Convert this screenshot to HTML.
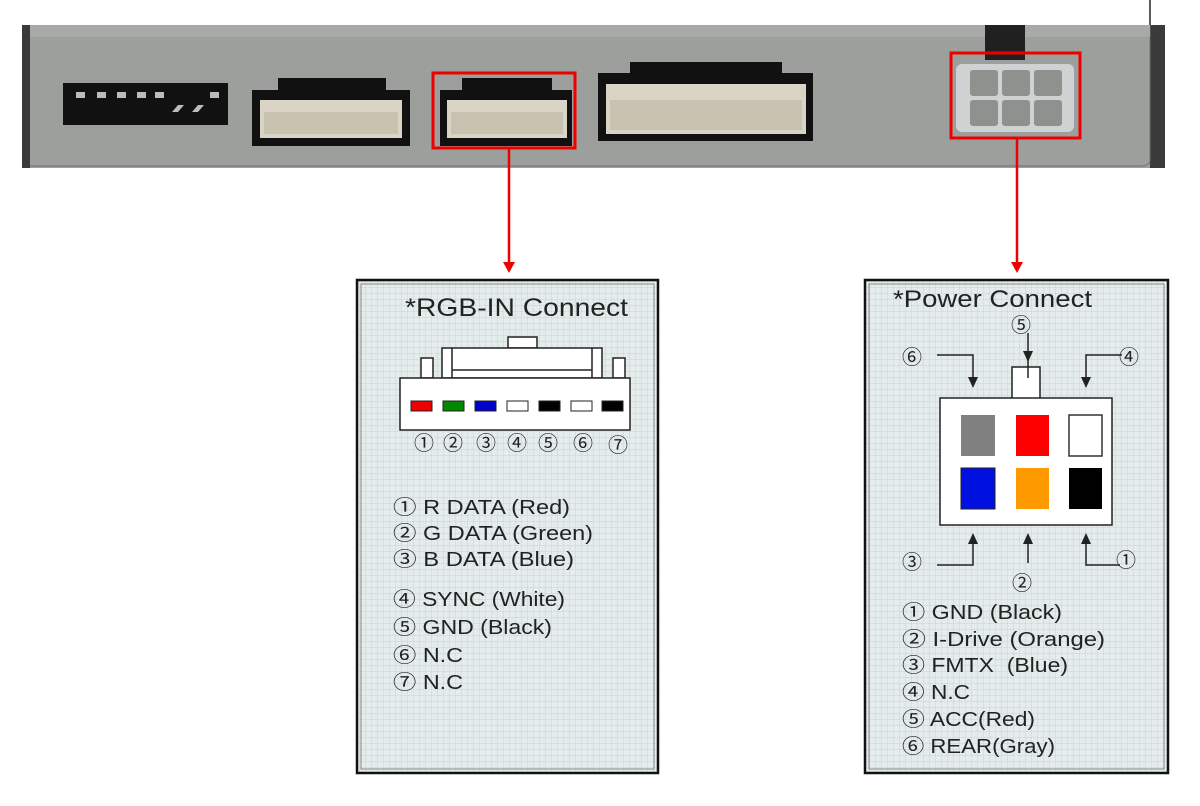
<!DOCTYPE html>
<html><head><meta charset="utf-8"><style>
html,body{margin:0;padding:0;background:#fff;width:1200px;height:806px;overflow:hidden}
svg text{font-family:"Liberation Sans","Noto Sans CJK KR",sans-serif;fill:#222}
</style></head><body>
<svg width="1200" height="806" viewBox="0 0 1200 806" xmlns="http://www.w3.org/2000/svg">
<defs>
<pattern id="g" width="6" height="6" patternUnits="userSpaceOnUse">
<rect width="6" height="6" fill="#e4ecec"/>
<path d="M6 0V6M0 6H6" stroke="#c9d3d4" stroke-width="1"/>
</pattern>
</defs>
<!-- device -->
<line x1="1150" y1="0" x2="1150" y2="26" stroke="#222" stroke-width="1.5"/>
<rect x="22" y="25" width="1143" height="143" fill="#9c9f9c"/>
<rect x="22" y="25" width="8" height="143" fill="#3a3a3a"/>
<rect x="1150" y="25" width="15" height="143" fill="#3a3a3a"/>
<path d="M1150 25 V160 Q1150 166 1140 166 H30" fill="none" stroke="#6f726f"/>
<rect x="30" y="25" width="1120" height="12" fill="#a7aaa7"/>
<rect x="985" y="25" width="40" height="35" fill="#202020"/>
<!-- dip -->
<rect x="63" y="83" width="165" height="42" fill="#111"/>
<g fill="#bbb"><rect x="76" y="92" width="9" height="6"/><rect x="97" y="92" width="9" height="6"/><rect x="117" y="92" width="9" height="6"/><rect x="137" y="92" width="9" height="6"/><rect x="155" y="92" width="9" height="6"/><rect x="210" y="92" width="9" height="6"/>
<path d="M172 112 L178 105 L184 105 L178 112Z"/><path d="M192 112 L198 105 L204 105 L198 112Z"/></g>
<!-- connector 1 -->
<rect x="252" y="90" width="158" height="56" fill="#111"/>
<rect x="278" y="78" width="108" height="22" fill="#111"/>
<rect x="260" y="100" width="142" height="38" fill="#d9d4c5"/>
<rect x="264" y="112" width="134" height="22" fill="#c8c2b0"/>
<!-- connector 2 -->
<rect x="440" y="90" width="132" height="56" fill="#111"/>
<rect x="462" y="78" width="90" height="22" fill="#111"/>
<rect x="447" y="100" width="120" height="38" fill="#d9d4c5"/>
<rect x="451" y="112" width="112" height="22" fill="#c8c2b0"/>
<rect x="433" y="73" width="142" height="75" fill="none" stroke="#e00" stroke-width="3"/>
<!-- big connector -->
<rect x="598" y="73" width="215" height="68" fill="#111"/>
<rect x="630" y="62" width="152" height="22" fill="#111"/>
<rect x="606" y="84" width="200" height="50" fill="#d9d4c5"/>
<rect x="610" y="100" width="192" height="30" fill="#c8c2b0"/>
<!-- power connector -->
<rect x="956" y="64" width="118" height="68" rx="6" fill="#cfd2d2"/>
<g fill="#8e918e"><rect x="970" y="70" width="28" height="26" rx="3"/><rect x="1002" y="70" width="28" height="26" rx="3"/><rect x="1034" y="70" width="28" height="26" rx="3"/><rect x="970" y="100" width="28" height="26" rx="3"/><rect x="1002" y="100" width="28" height="26" rx="3"/><rect x="1034" y="100" width="28" height="26" rx="3"/></g>
<rect x="951" y="53" width="129" height="85" fill="none" stroke="#e00" stroke-width="3"/>
<!-- red arrows -->
<line x1="509" y1="148" x2="509" y2="264" stroke="#e00" stroke-width="2.5"/>
<path d="M503 262 L515 262 L509 273Z" fill="#e00"/>
<line x1="1017" y1="138" x2="1017" y2="264" stroke="#e00" stroke-width="2.5"/>
<path d="M1011 262 L1023 262 L1017 273Z" fill="#e00"/>
<!-- panel 1 -->
<rect x="357" y="280" width="301" height="493" fill="url(#g)" stroke="#111" stroke-width="2.5"/>
<rect x="361" y="284" width="293" height="485" fill="none" stroke="#888" stroke-width="1"/>
<text x="405" y="316" font-size="25" textLength="223" lengthAdjust="spacingAndGlyphs">*RGB-IN Connect</text>
<g fill="#fff" stroke="#222" stroke-width="1.5">
<rect x="508" y="337" width="29" height="11"/>
<rect x="442" y="348" width="160" height="30"/>
<rect x="421" y="358" width="12" height="20"/><rect x="613" y="358" width="12" height="20"/>
<rect x="400" y="378" width="230" height="52"/>
</g>
<path d="M452 348V378M592 348V378M452 370H592" stroke="#222" stroke-width="1.5" fill="none"/>
<g stroke="#222" stroke-width="1">
<rect x="411" y="401" width="21" height="10" fill="#e00"/>
<rect x="443" y="401" width="21" height="10" fill="#080"/>
<rect x="475" y="401" width="21" height="10" fill="#00c"/>
<rect x="507" y="401" width="21" height="10" fill="#fff"/>
<rect x="539" y="401" width="21" height="10" fill="#000"/>
<rect x="571" y="401" width="21" height="10" fill="#fff"/>
<rect x="602" y="401" width="21" height="10" fill="#000"/>
</g>
<g font-size="20" text-anchor="middle"><text x="424" y="450">①</text><text x="453" y="450">②</text><text x="486" y="450">③</text><text x="517" y="450">④</text><text x="548" y="450">⑤</text><text x="583" y="450">⑥</text><text x="618" y="452">⑦</text></g>
<g font-size="20" lengthAdjust="spacingAndGlyphs">
<text x="393" y="514" textLength="177" lengthAdjust="spacingAndGlyphs">① R DATA (Red)</text>
<text x="393" y="540" textLength="200" lengthAdjust="spacingAndGlyphs">② G DATA (Green)</text>
<text x="393" y="566" textLength="181" lengthAdjust="spacingAndGlyphs">③ B DATA (Blue)</text>
<text x="393" y="606" textLength="172" lengthAdjust="spacingAndGlyphs">④ SYNC (White)</text>
<text x="393" y="634" textLength="159" lengthAdjust="spacingAndGlyphs">⑤ GND (Black)</text>
<text x="393" y="662" textLength="70" lengthAdjust="spacingAndGlyphs">⑥ N.C</text>
<text x="393" y="689" textLength="70" lengthAdjust="spacingAndGlyphs">⑦ N.C</text>
</g>
<!-- panel 2 -->
<rect x="865" y="280" width="303" height="493" fill="url(#g)" stroke="#111" stroke-width="2.5"/>
<rect x="869" y="284" width="295" height="485" fill="none" stroke="#888" stroke-width="1"/>
<text x="893" y="307" font-size="24" textLength="199" lengthAdjust="spacingAndGlyphs">*Power Connect</text>
<rect x="1012" y="367" width="28" height="32" fill="#fff" stroke="#222" stroke-width="1.5"/>
<rect x="940" y="398" width="172" height="127" fill="#fff" stroke="#222" stroke-width="1.5"/>
<rect x="961" y="415" width="34" height="41" fill="#808080"/>
<rect x="1016" y="415" width="33" height="41" fill="#f00"/>
<rect x="1069" y="415" width="33" height="41" fill="#fff" stroke="#333" stroke-width="1.5"/>
<rect x="961" y="468" width="34" height="41" fill="#0010e0" stroke="#222"/>
<rect x="1016" y="468" width="33" height="41" fill="#f90"/>
<rect x="1069" y="468" width="33" height="41" fill="#000"/>
<g stroke="#222" stroke-width="1.5" fill="none">
<path d="M1028 333V378"/>
<path d="M937 355H973V380"/>
<path d="M1122 355H1086V380"/>
<path d="M937 565H973V542"/>
<path d="M1028 563V542"/>
<path d="M1120 565H1086V542"/>
</g>
<g fill="#222">
<path d="M1023 351H1033L1028 362Z"/>
<path d="M968 377H978L973 388Z"/>
<path d="M1081 377H1091L1086 388Z"/>
<path d="M968 544H978L973 533Z"/>
<path d="M1023 544H1033L1028 533Z"/>
<path d="M1081 544H1091L1086 533Z"/>
</g>
<g font-size="20" text-anchor="middle"><text x="1021" y="332">⑤</text><text x="912" y="364">⑥</text><text x="1129" y="364">④</text><text x="912" y="569">③</text><text x="1022" y="590">②</text><text x="1126" y="567">①</text></g>
<g font-size="20">
<text x="902" y="619" textLength="160" lengthAdjust="spacingAndGlyphs">① GND (Black)</text>
<text x="902" y="646" textLength="203" lengthAdjust="spacingAndGlyphs">② I-Drive (Orange)</text>
<text x="902" y="672" textLength="166" lengthAdjust="spacingAndGlyphs">③ FMTX&#160;&#160;(Blue)</text>
<text x="902" y="699" textLength="68" lengthAdjust="spacingAndGlyphs">④ N.C</text>
<text x="902" y="726" textLength="133" lengthAdjust="spacingAndGlyphs">⑤ ACC(Red)</text>
<text x="902" y="753" textLength="153" lengthAdjust="spacingAndGlyphs">⑥ REAR(Gray)</text>
</g>
</svg>
</body></html>
